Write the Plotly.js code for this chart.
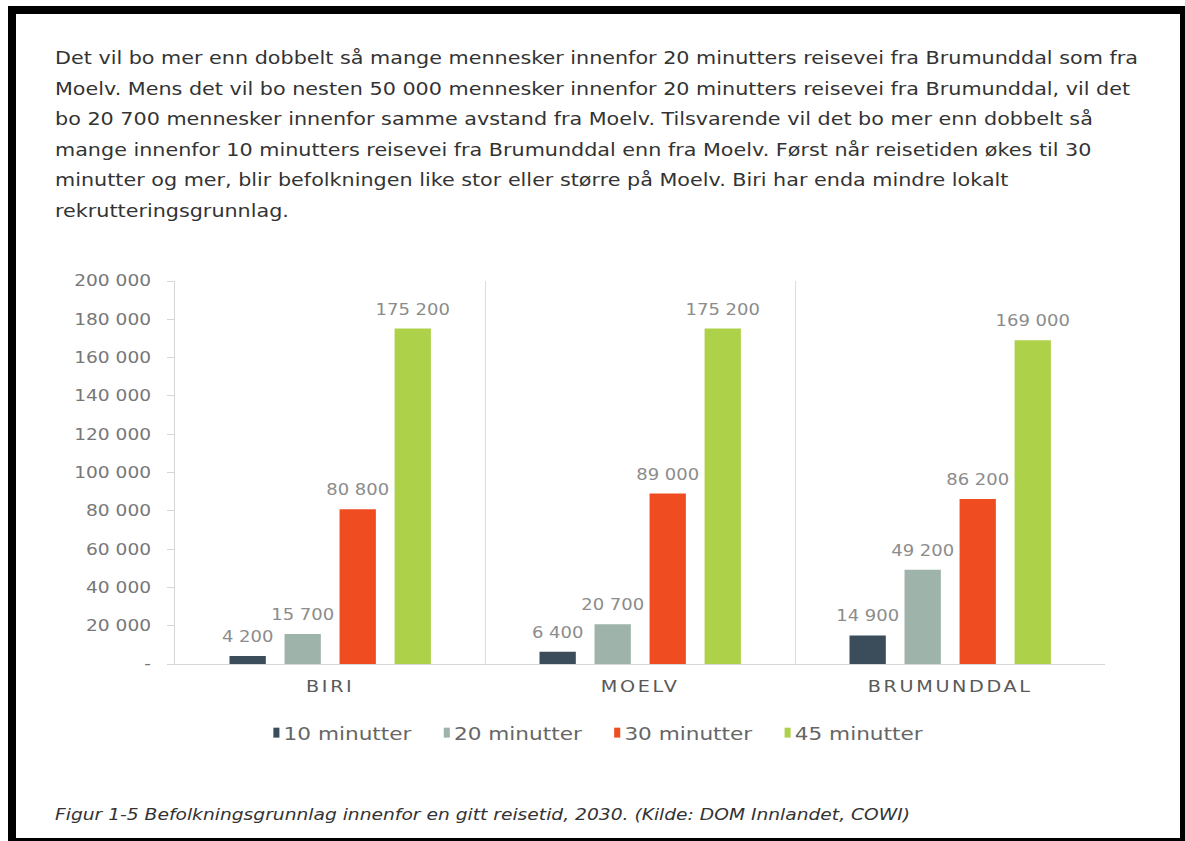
<!DOCTYPE html>
<html>
<head>
<meta charset="utf-8">
<script src="https://cdn.plot.ly/plotly-3.0.1.min.js"></script>
<style>
  html, body { margin:0; padding:0; width:1185px; height:841px; overflow:hidden; background:#ffffff; }
  #frame { position:absolute; left:8px; top:6px; width:1164px; height:824px; border:8px solid #000; box-sizing:content-box; }
  #chart { position:absolute; left:0; top:0; width:988px; height:841px; transform:scaleX(1.2); transform-origin:0 0; }
  #para { position:absolute; left:55px; top:43px; font-family:"DejaVu Sans", Verdana, sans-serif; font-size:17px; line-height:30.6px; color:#333; white-space:pre; transform:scaleX(1.218); transform-origin:0 0; }
  #caption { position:absolute; left:55px; top:806px; font-family:"DejaVu Sans", Verdana, sans-serif; font-style:italic; font-size:15.3px; color:#333; white-space:pre; transform:scaleX(1.22); transform-origin:0 0; }
  .xtick text { letter-spacing:2.2px; }
  .legend .scrollbox { clip-path:none !important; }
  .legend .legendtext { transform:translateX(-14px); }
  .legend .legendpoints path { transform:translate(20px, 0px) scale(0.42, 0.83); }
</style>
</head>
<body>
<div id="chart"></div>
<div id="frame"></div>
<div id="para">Det vil bo mer enn dobbelt så mange mennesker innenfor 20 minutters reisevei fra Brumunddal som fra
Moelv. Mens det vil bo nesten 50 000 mennesker innenfor 20 minutters reisevei fra Brumunddal, vil det
bo 20 700 mennesker innenfor samme avstand fra Moelv. Tilsvarende vil det bo mer enn dobbelt så
mange innenfor 10 minutters reisevei fra Brumunddal enn fra Moelv. Først når reisetiden økes til 30
minutter og mer, blir befolkningen like stor eller større på Moelv. Biri har enda mindre lokalt
rekrutteringsgrunnlag.</div>
<div id="caption">Figur 1-5 Befolkningsgrunnlag innenfor en gitt reisetid, 2030. (Kilde: DOM Innlandet, COWI)</div>
<script>
const categories = ["BIRI", "MOELV", "BRUMUNDDAL"];
const seriesNames = ["10 minutter", "20 minutter", "30 minutter", "45 minutter"];
const min10 = [4200, 6400, 14900];
const min20 = [15700, 20700, 49200];
const min30 = [80800, 89000, 86200];
const min45 = [175200, 175200, 169000];
const tickValues = [0, 20000, 40000, 60000, 80000, 100000, 120000, 140000, 160000, 180000, 200000];
const tickLabels = ["-", "20 000", "40 000", "60 000", "80 000", "100 000", "120 000", "140 000", "160 000", "180 000", "200 000"];

const colors = ["#3b4d5b", "#9eb3aa", "#f04c22", "#aed14a"];
const values = [min10, min20, min30, min45];
const font = "DejaVu Sans, Verdana, sans-serif";

const traces = values.map((v, i) => ({
  type: "bar",
  name: seriesNames[i],
  x: categories,
  y: v,
  marker: { color: colors[i] },
  texttemplate: "%{y:,d}",
  textposition: "outside",
  constraintext: "none",
  cliponaxis: false,
  textfont: { family: font, size: 15, color: "#8c8c8c" },
  hoverinfo: "skip"
}));

const layout = {
  width: 988,
  height: 841,
  margin: { l: 146, r: 67, t: 281, b: 177 },
  paper_bgcolor: "rgba(0,0,0,0)",
  plot_bgcolor: "rgba(0,0,0,0)",
  separators: ", ",
  barmode: "group",
  bargap: 0.29,
  bargroupgap: 0.34,
  showlegend: true,
  legend: {
    orientation: "h",
    x: 0.083, xanchor: "left",
    y: -0.18, yanchor: "middle",
    font: { family: font, size: 18, color: "#666" },
    entrywidth: 97, entrywidthmode: "pixels",
    itemwidth: 30
  },
  xaxis: {
    type: "category",
    tickson: "boundaries",
    showgrid: true,
    gridcolor: "#dedede",
    gridwidth: 1,
    showline: true,
    linecolor: "#d6d6d6",
    ticks: "",
    tickfont: { family: font, size: 16, color: "#595959" },
    ticklabelstandoff: 8,
    zeroline: false,
    fixedrange: true
  },
  yaxis: {
    range: [0, 200000],
    tickvals: tickValues,
    ticktext: tickLabels,
    showgrid: false,
    zeroline: false,
    showline: true,
    linecolor: "#d6d6d6",
    ticks: "outside",
    ticklen: 6,
    tickcolor: "#d6d6d6",
    ticklabelstandoff: 10,
    tickfont: { family: font, size: 15.5, color: "#777" },
    fixedrange: true
  }
};

Plotly.newPlot("chart", traces, layout, { displayModeBar: false, staticPlot: true }).then(gd => {
  gd.querySelectorAll("text.bartext").forEach(t => t.setAttribute("dy", "-7"));
});
</script>
</body>
</html>
